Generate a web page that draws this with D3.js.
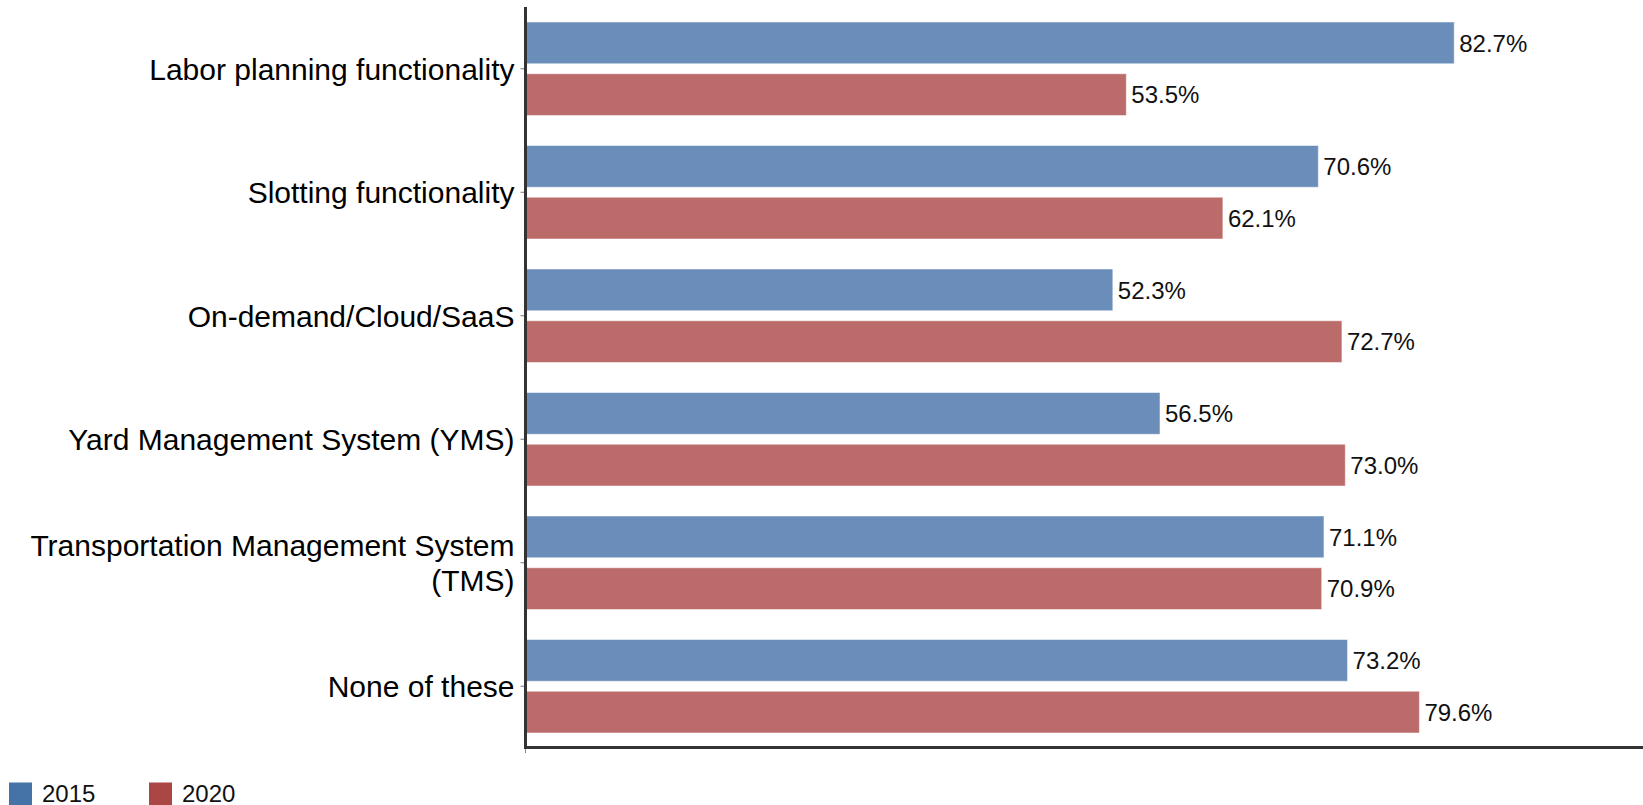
<!DOCTYPE html>
<html>
<head>
<meta charset="utf-8">
<script src="https://cdn.jsdelivr.net/npm/d3@7"></script>
<style>
  html, body { margin: 0; padding: 0; background: #fff; }
  svg { display: block; font-family: "Liberation Sans", Arial, sans-serif; }
</style>
</head>
<body>
<svg id="chart" width="1643" height="805"></svg>
<script>
const categories = [
  "Labor planning functionality",
  "Slotting functionality",
  "On-demand/Cloud/SaaS",
  "Yard Management System (YMS)",
  "Transportation Management System (TMS)",
  "None of these"
];
const categoryLines = [
  ["Labor planning functionality"],
  ["Slotting functionality"],
  ["On-demand/Cloud/SaaS"],
  ["Yard Management System (YMS)"],
  ["Transportation Management System", "(TMS)"],
  ["None of these"]
];
const seriesNames = ["2015", "2020"];
const values2015 = [82.7, 70.6, 52.3, 56.5, 71.1, 73.2];
const values2020 = [53.5, 62.1, 72.7, 73.0, 70.9, 79.6];
const seriesColors = ["#4572A7", "#AA4643"];

const svg = d3.select("#chart");
const axisX = 525.5, plotTop = 7, plotBottom = 748;

const x = d3.scaleLinear().domain([0, 100]).range([axisX, axisX + 1123]);
const y = d3.scaleBand().domain(categories).range([plotTop, plotBottom]).padding(0);
const yInner = d3.scaleBand().domain(seriesNames).range([0, y.bandwidth()])
  .paddingInner(0.193).paddingOuter(0.29);

const rows = categories.map((c, i) => ({
  cat: c,
  vals: [
    { s: "2015", v: values2015[i], color: seriesColors[0] },
    { s: "2020", v: values2020[i], color: seriesColors[1] }
  ]
}));

const g = svg.append("g");
const groups = g.selectAll("g.cat").data(rows).join("g")
  .attr("transform", d => `translate(0,${y(d.cat)})`);

groups.selectAll("rect").data(d => d.vals).join("rect")
  .attr("x", x(0))
  .attr("y", d => yInner(d.s))
  .attr("width", d => x(d.v) - x(0))
  .attr("height", yInner.bandwidth())
  .attr("fill", d => d.color)
  .attr("fill-opacity", 0.8)
  .attr("stroke", "#fff")
  .attr("stroke-opacity", 0.5)
  .attr("stroke-width", 1);

groups.selectAll("text.val").data(d => d.vals).join("text")
  .attr("class", "val")
  .attr("x", d => x(d.v) + 5)
  .attr("y", d => yInner(d.s) + yInner.bandwidth() / 2)
  .attr("dy", "0.36em")
  .attr("font-size", 24)
  .attr("fill", "#111")
  .text(d => d.v.toFixed(1) + "%");

// Left axis with category ticks
const yAxis = d3.axisLeft(y).tickSize(5).tickFormat("");
const ya = svg.append("g").attr("transform", `translate(${axisX},0)`).call(yAxis);
ya.select(".domain").remove();
ya.selectAll(".tick line").attr("stroke", "#777").attr("stroke-width", 1);

// category labels
const labelG = svg.append("g");
categories.forEach((c, i) => {
  const lines = categoryLines[i];
  const cy = y(c) + y.bandwidth() / 2;
  const lh = 34.5;
  const t = labelG.append("text")
    .attr("x", axisX - 11)
    .attr("text-anchor", "end")
    .attr("font-size", 30)
    .attr("fill", "#000");
  lines.forEach((ln, j) => {
    t.append("tspan")
      .attr("x", axisX - 11)
      .attr("y", cy + (j - (lines.length - 1) / 2) * lh)
      .attr("dy", "0.36em")
      .text(ln);
  });
});

// Axis lines
svg.append("line")
  .attr("x1", axisX).attr("x2", axisX)
  .attr("y1", plotTop).attr("y2", 749)
  .attr("stroke", "#333").attr("stroke-width", 3);
svg.append("line")
  .attr("x1", axisX - 1.5).attr("x2", 1643)
  .attr("y1", 747.5).attr("y2", 747.5)
  .attr("stroke", "#333").attr("stroke-width", 3);
svg.append("line")
  .attr("x1", axisX).attr("x2", axisX)
  .attr("y1", 749).attr("y2", 753)
  .attr("stroke", "#888").attr("stroke-width", 1);

// Legend
const legend = svg.append("g");
const legX = [9, 149];
seriesNames.forEach((s, i) => {
  legend.append("rect")
    .attr("x", legX[i]).attr("y", 782.5)
    .attr("width", 23).attr("height", 23)
    .attr("fill", seriesColors[i]);
  legend.append("text")
    .attr("x", legX[i] + 33)
    .attr("y", 802)
    .attr("font-size", 24)
    .attr("fill", "#111")
    .text(s);
});
</script>
</body>
</html>
